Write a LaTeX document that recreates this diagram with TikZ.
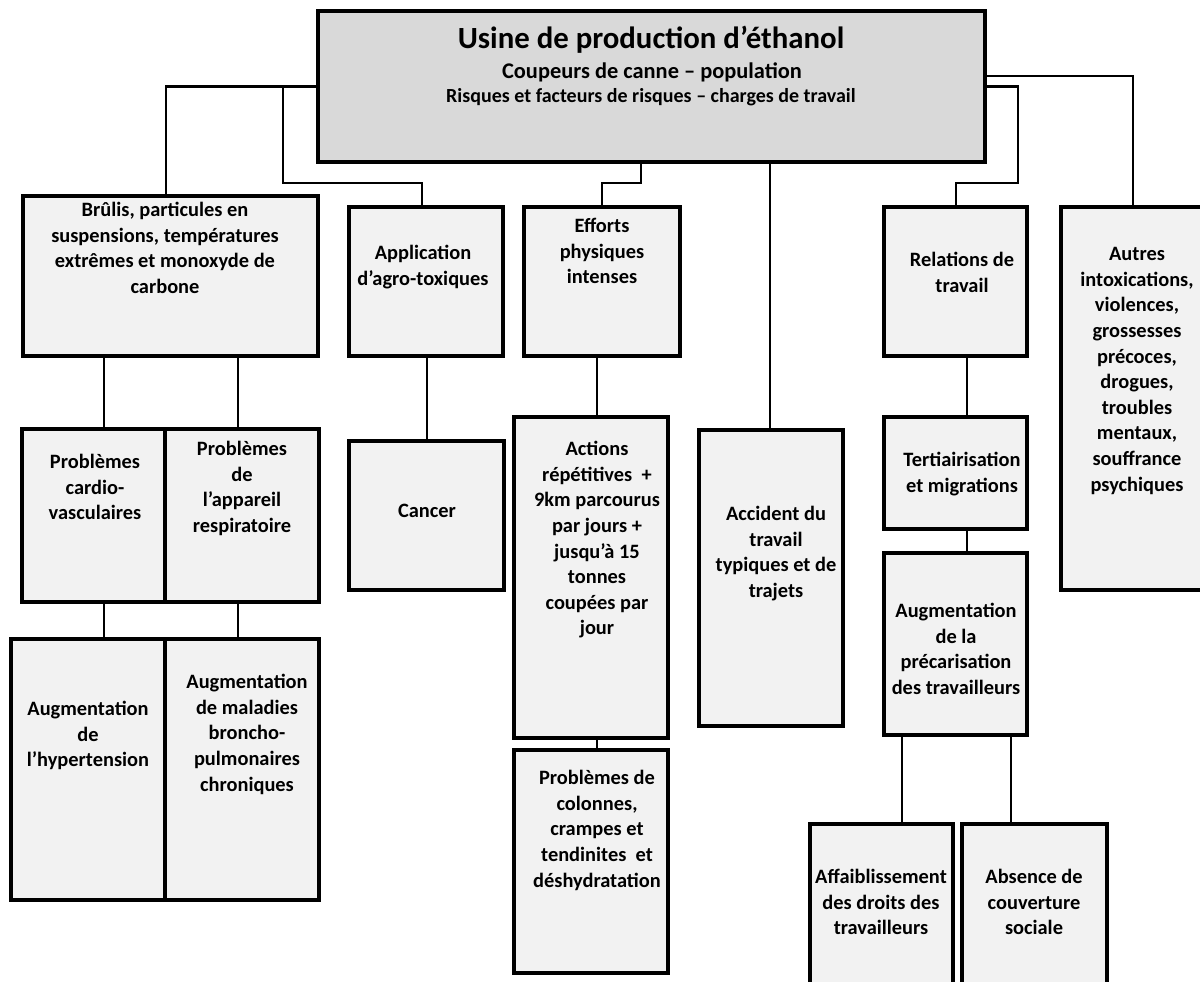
\documentclass[tikz,border=0pt]{standalone}
\usepackage{fontspec}
\setmainfont{Carlito}
\usetikzlibrary{fit}
\definecolor{topfill}{HTML}{D9D9D9}
\definecolor{boxfill}{HTML}{F2F2F2}
\begin{document}
\begin{tikzpicture}[x=0.5pt,y=-0.5pt,
  box/.style={draw=black, line width=2pt, fill=boxfill, inner sep=0pt, outer sep=0pt},
  topbox/.style={box, fill=topfill},
  conn/.style={draw=black, line width=1.3pt},
  txt/.style={anchor=north, align=center, inner sep=0pt, font=\fontsize{10.2}{12.8}\selectfont\bfseries}]
\useasboundingbox (0,0) rectangle (1200,981);
\clip (0,0) rectangle (1200,981);
\fill[white] (0,0) rectangle (1200,981);

% column / row coordinates for connectors
\coordinate (c1) at (104,0);
\coordinate (c2) at (238,0);
\coordinate (c3) at (427,0);
\coordinate (c4) at (597,0);
\coordinate (c5) at (770,0);
\coordinate (c6) at (967,0);
\coordinate (c7) at (902,0);
\coordinate (c8) at (1011,0);
\coordinate (c9) at (166,0);
\coordinate (c10) at (283,0);
\coordinate (c11) at (422,0);
\coordinate (c12) at (641,0);
\coordinate (c13) at (602,0);
\coordinate (c14) at (1018,0);
\coordinate (c15) at (956,0);
\coordinate (c16) at (1133,0);
\coordinate (r0) at (0,76);
\coordinate (r1) at (0,183);

% boxes
\node[topbox, fit={(318,11) (985,162)}] (top) {};
\node[box, fit={(23,196) (318,356)}] (brulis) {};
\node[box, fit={(349,207) (503,356)}] (app) {};
\node[box, fit={(524,207) (680,356)}] (eff) {};
\node[box, fit={(884,207) (1027,356)}] (rel) {};
\node[box, fit={(1061,207) (1213,590)}] (autres) {};
\node[box, fit={(22,429) (165,602)}] (pcard) {};
\node[box, fit={(165,429) (319,602)}] (papp) {};
\node[box, fit={(11,639) (165,900)}] (aug1) {};
\node[box, fit={(165,639) (319,900)}] (aug2) {};
\node[box, fit={(349,441) (504,590)}] (cancer) {};
\node[box, fit={(514,417) (668,738)}] (act) {};
\node[box, fit={(514,750) (668,973)}] (col) {};
\node[box, fit={(699,430) (843,726)}] (acc) {};
\node[box, fit={(884,417) (1027,529)}] (tert) {};
\node[box, fit={(884,553) (1027,735)}] (prec) {};
\node[box, fit={(810,824) (953,1010)}] (affai) {};
\node[box, fit={(962,824) (1107,1010)}] (absc) {};

% connectors
\draw[conn] (top.west) -| (brulis.north -| c9);
\draw[conn] (top.west -| c10) |- (r1 -| c11) -- (app.north -| c11);
\draw[conn] (top.south -| c12) |- (r1 -| c13) -- (eff.north -| c13);
\draw[conn] (top.south -| c5) -- (acc.north -| c5);
\draw[conn] (top.east |- r0) -| (autres.north -| c16);
\draw[conn] (top.east) -| (r1 -| c14) -| (rel.north -| c15);
\draw[conn] (brulis.south -| c1) -- (pcard.north -| c1);
\draw[conn] (brulis.south -| c2) -- (papp.north -| c2);
\draw[conn] (pcard.south -| c1) -- (aug1.north -| c1);
\draw[conn] (papp.south -| c2) -- (aug2.north -| c2);
\draw[conn] (app.south -| c3) -- (cancer.north -| c3);
\draw[conn] (eff.south -| c4) -- (act.north -| c4);
\draw[conn] (act.south -| c4) -- (col.north -| c4);
\draw[conn] (rel.south -| c6) -- (tert.north -| c6);
\draw[conn] (tert.south -| c6) -- (prec.north -| c6);
\draw[conn] (prec.south -| c7) -- (affai.north -| c7);
\draw[conn] (prec.south -| c8) -- (absc.north -| c8);

% texts
\node[anchor=base, inner sep=0pt, font=\fontsize{15.4}{18}\selectfont\bfseries] (t1) at (651,48) {Usine de production d’éthanol};
\node[anchor=base, inner sep=0pt, font=\fontsize{11.2}{13}\selectfont\bfseries] (t2) at (652,78) {Coupeurs de canne – population};
\node[anchor=base, inner sep=0pt, font=\fontsize{10}{12}\selectfont\bfseries] (t3) at (651,102) {Risques et facteurs de risques – charges de travail};

\node[txt] (brulisT) at (165,202) {Brûlis, particules en\\suspensions, températures\\extrêmes et monoxyde de\\carbone};
\node[txt] (appT) at (423,245) {Application\\d’agro-toxiques};
\node[txt] (effT) at (602,218) {Efforts\\physiques\\intenses};
\node[txt] (relT) at (962,252) {Relations de\\travail};
\node[txt] (autresT) at (1137,247) {Autres\\intoxications,\\violences,\\grossesses\\précoces,\\drogues,\\troubles\\mentaux,\\souffrance\\psychiques};
\node[txt] (pcardT) at (95,454) {Problèmes\\cardio-\\vasculaires};
\node[txt] (pappT) at (242,441) {Problèmes\\de\\l’appareil\\respiratoire};
\node[txt] (aug1T) at (88,701) {Augmentation\\de\\l’hypertension};
\node[txt] (aug2T) at (247,674) {Augmentation\\de maladies\\broncho-\\pulmonaires\\chroniques};
\node[txt] (cancerT) at (427,504) {Cancer};
\node[txt] (actT) at (597,441) {Actions\\répétitives~ +\\9km parcourus\\par jours +\\jusqu’à 15\\tonnes\\coupées par\\jour};
\node[txt] (colT) at (597,770) {Problèmes de\\colonnes,\\crampes et\\tendinites~ et\\déshydratation};
\node[txt] (accT) at (776,506) {Accident du\\travail\\typiques et de\\trajets};
\node[txt] (tertT) at (962,452) {Tertiairisation\\et migrations};
\node[txt] (precT) at (956,603) {Augmentation\\de la\\précarisation\\des travailleurs};
\node[txt] (affaiT) at (881,869) {Affaiblissement\\des droits des\\travailleurs};
\node[txt] (abscT) at (1034,869) {Absence de\\couverture\\sociale};
\end{tikzpicture}
\end{document}
